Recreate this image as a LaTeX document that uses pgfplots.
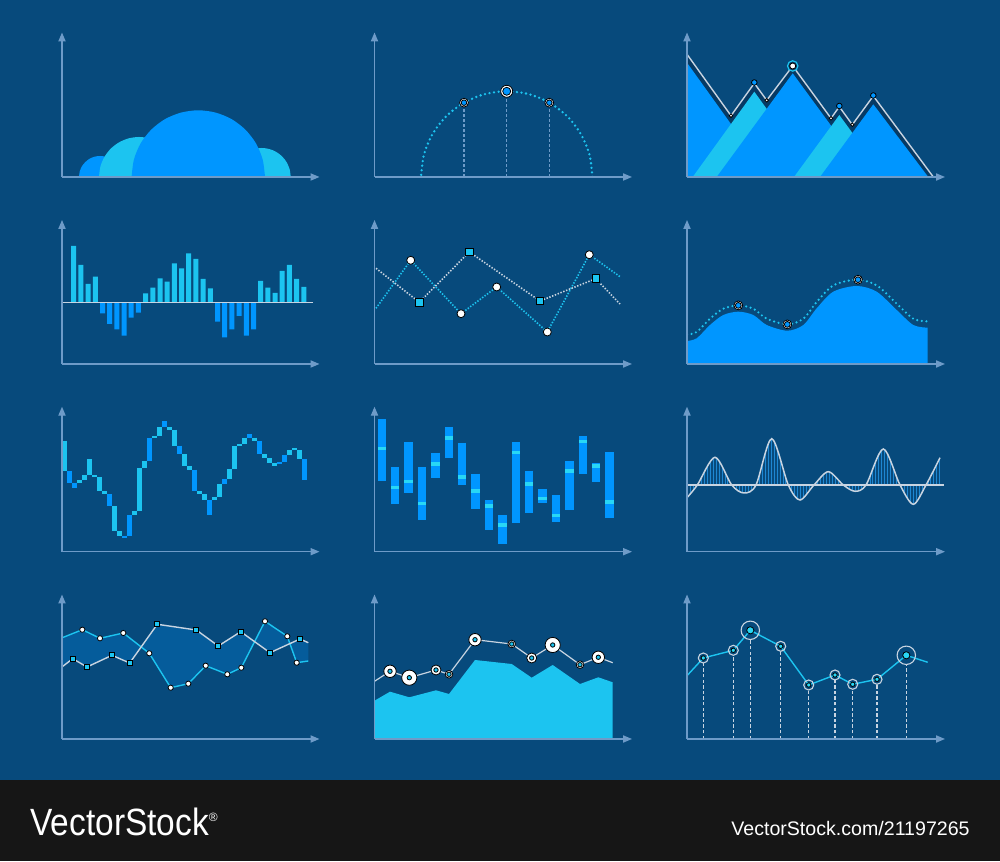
\documentclass[border=0pt]{standalone}
\usepackage{fontspec}
\setmainfont{Liberation Sans}
\usepackage{graphicx}
\usepackage{pgfplots}
\pgfplotsset{compat=1.18}
\usetikzlibrary{arrows.meta,patterns.meta}

\definecolor{bgc}{RGB}{7,74,124}
\definecolor{axisc}{RGB}{110,155,200}
\definecolor{bblue}{RGB}{0,150,255}
\definecolor{ccyan}{RGB}{28,196,240}
\definecolor{navy}{RGB}{6,58,100}
\definecolor{hatchc}{RGB}{30,135,210}
\definecolor{band}{RGB}{5,92,155}
\definecolor{banner}{RGB}{22,22,22}
\definecolor{lgray}{RGB}{200,212,225}
\definecolor{aqua}{RGB}{40,215,245}

% 1 px of the reference = 0.5pt; data are read in pixel units
\pgfplotsset{
  panel/.style={
    x=0.5pt, y=0.5pt,
    anchor=south west,
    axis lines=left, axis on top,
    axis line style={draw=axisc, line width=0.65pt},
    every outer x axis line/.append style={-{Triangle[length=4.5pt,width=3.6pt]}},
    every outer y axis line/.append style={-{Triangle[length=4.5pt,width=3.6pt]}},
    xtick=\empty, ytick=\empty,
    unbounded coords=jump,
  },
}

\begin{document}
\begin{tikzpicture}
\fill[bgc] (0,0) rectangle (500pt,430.5pt);
\fill[banner] (0,0) rectangle (500pt,40.5pt);
\node[anchor=west, text=white, inner sep=0pt] at (15pt,19.5pt)
  {\scalebox{0.88}[1]{\fontsize{19pt}{20pt}\selectfont VectorStock}\raisebox{7pt}{\fontsize{6pt}{7pt}\selectfont ®}};
\node[anchor=east, text=white, inner sep=0pt] at (485pt,16.5pt)
  {\fontsize{9.8pt}{11pt}\selectfont VectorStock.com/21197265};

% ---------- row 1 ----------
\begin{axis}[panel, at={(31pt,342pt)}, xmin=62, xmax=319.5, ymin=684, ymax=828.5]
\addplot[fill=bblue, draw=none, smooth] coordinates {(121,684)(120.3,689.4)(118.2,694.5)(114.8,698.8)(110.5,702.2)(105.4,704.3)(100,705)(94.6,704.3)(89.5,702.2)(85.2,698.8)(81.8,694.5)(79.7,689.4)(79,684)} \closedcycle;
\addplot[fill=ccyan, draw=none, smooth] coordinates {(179,684)(177.6,694.4)(173.6,704)(167.3,712.3)(159,718.6)(149.4,722.6)(139,724)(128.6,722.6)(119,718.6)(110.7,712.3)(104.4,704)(100.4,694.4)(99,684)} \closedcycle;
\addplot[fill=ccyan, draw=none, smooth] coordinates {(290.7,684)(289.7,691.5)(286.8,698.5)(282.2,704.5)(276.2,709.1)(269.2,712)(261.7,713)(254.2,712)(247.2,709.1)(241.2,704.5)(236.6,698.5)(233.7,691.5)(232.7,684)} \closedcycle;
\addplot[fill=bblue, draw=none, smooth] coordinates {(265,684)(262.7,701.3)(256.1,717.4)(245.5,731.2)(231.7,741.8)(215.6,748.4)(198.3,750.7)(181,748.4)(164.9,741.8)(151.1,731.2)(140.5,717.4)(133.9,701.3)(131.6,684)} \closedcycle;
\end{axis}

\begin{axis}[panel, at={(187.25pt,342pt)}, xmin=374.5, xmax=632, ymin=684, ymax=828.5]
\addplot[axisc, line width=0.6pt, dash pattern=on 1.6pt off 0.9pt] coordinates {(464,684)(464,758.3)(464,nan)(506.7,684)(506.7,769.7)(506.7,nan)(549.3,684)(549.3,758.3)};
\addplot[ccyan, line width=1.3pt, line cap=round, dash pattern=on 0pt off 2.3pt, smooth] coordinates {(592.4,684)(589.5,706.2)(580.9,726.85)(567.3,744.6)(549.55,758.2)(528.9,766.8)(506.7,769.7)(484.5,766.8)(463.85,758.2)(446.1,744.6)(432.5,726.85)(423.9,706.2)(421,684)};
\addplot[only marks, mark=*, mark size=3pt, mark options={fill=white, draw=none}] coordinates {(506.7,769.7)};
\addplot[only marks, mark=*, mark size=2pt, mark options={fill=bblue, draw=none}] coordinates {(506.7,769.7)};
\addplot[only marks, mark=*, mark size=2.2pt, mark options={fill=white, draw=none}] coordinates {(464,758.3)(549.3,758.3)};
\addplot[only marks, mark=*, mark size=1.4pt, mark options={fill=bblue, draw=none}] coordinates {(464,758.3)(549.3,758.3)};
\end{axis}

\begin{axis}[panel, at={(343.5pt,342pt)}, xmin=687, xmax=945, ymin=684, ymax=828.5]
\addplot[fill=navy, draw=none] coordinates {(687,684)(687,806.7)(731,745.3)(754.3,777.7)(766.7,760.7)(792.7,795)(831,742.7)(839.3,754.3)(852.3,736.3)(873.3,765)(933.3,684)};
\addplot[fill=bblue, draw=none] coordinates {(687,684)(687,798.3)(769,684)};
\addplot[fill=ccyan, draw=none] coordinates {(692.7,684)(754.3,769.3)(815.9,684)};
\addplot[fill=bblue, draw=none] coordinates {(716.7,684)(792.7,787.7)(868.7,684)};
\addplot[fill=ccyan, draw=none] coordinates {(794,684)(839.3,746)(884.6,684)};
\addplot[fill=bblue, draw=none] coordinates {(820,684)(873.3,756.7)(928.3,684)};
\addplot[lgray, line width=0.7pt] coordinates {(687,806.7)(731,745.3)(754.3,777.7)(766.7,760.7)(792.7,795)(831,742.7)(839.3,754.3)(852.3,736.3)(873.3,765)(933.3,684)};
\addplot[only marks, mark=*, mark size=1.4pt, mark options={fill=bblue, draw=none}] coordinates {(754.3,778.5)(839.3,755)(873.3,765.5)};
\addplot[only marks, mark=*, mark size=0.9pt, mark options={fill=white, draw=none}] coordinates {(731,745.3)(766.7,760.7)(831,742.7)(852.3,736.3)};
\addplot[only marks, mark=*, mark size=2.6pt, mark options={fill=navy, draw=ccyan, line width=0.6pt}] coordinates {(792.7,795)};
\addplot[only marks, mark=*, mark size=1.5pt, mark options={fill=white, draw=none}] coordinates {(792.7,795)};
\end{axis}

% ---------- row 2 ----------
\begin{axis}[panel, at={(31pt,248.5pt)}, xmin=62, xmax=319.5, ymin=-61.3, ymax=82.7]
\addplot[ybar, bar width=2.5pt, bar shift=0pt, fill=ccyan, draw=none] coordinates {(73.7,56.7)(80.9,37.7)(88.1,18.7)(95.3,26)(145.6,9.3)(152.8,15)(160,24.3)(167.2,21)(174.4,39.3)(181.6,34.3)(188.7,49.3)(195.9,43.7)(203.1,23.7)(210.3,14.3)(260.6,21.7)(267.8,15)(275,9.7)(282.2,31.7)(289.4,37.7)(296.6,23.7)(303.8,15.7)};
\addplot[ybar, bar width=2.5pt, bar shift=0pt, fill=bblue, draw=none] coordinates {(102.5,-10.7)(109.7,-21.3)(116.8,-26.7)(124,-33)(131.2,-15)(138.4,-10)(217.5,-19)(224.7,-34.7)(231.9,-26.7)(239.1,-13.3)(246.3,-33)(253.5,-26.7)};
\addplot[lgray, line width=0.6pt] coordinates {(62,0)(312.7,0)};
\end{axis}

\begin{axis}[panel, at={(187.25pt,248.5pt)}, xmin=374.5, xmax=632, ymin=497, ymax=641]
\addplot[ccyan, line width=0.8pt, dash pattern=on 0.7pt off 0.8pt] coordinates {(376,552.7)(410.7,600.7)(461,547.3)(496.7,574)(547.3,529)(589.3,606.3)(620,584.3)};
\addplot[lgray, line width=0.8pt, dash pattern=on 0.7pt off 0.8pt] coordinates {(376,592.7)(419.3,558.7)(469.3,609)(540,560)(595.7,582.3)(620,557)};
\addplot[only marks, mark=*, mark size=2pt, mark options={fill=white, draw=none}] coordinates {(410.7,600.7)(461,547.3)(496.7,574)(547.3,529)(589.3,606.3)};
\addplot[only marks, mark=square*, mark size=1.9pt, mark options={fill=ccyan, draw=none}] coordinates {(419.3,558.7)(469.3,609)(540,560)(595.7,582.3)};
\end{axis}

\begin{axis}[panel, at={(343.5pt,248.5pt)}, xmin=687, xmax=945, ymin=497, ymax=641]
\addplot[fill=bblue, draw=none, smooth] coordinates {(687,520)(696.7,522.7)(710,536)(723.3,546)(738.3,549.3)(753.3,546)(766.7,536)(787.3,530.3)(803.3,536)(816.7,552.7)(833.3,569.3)(856.7,575)(876.7,569.3)(896.7,551)(913.3,536)(927.7,533.3)} \closedcycle;
\addplot[ccyan, line width=1.2pt, line cap=round, dash pattern=on 0pt off 2.3pt, smooth] coordinates {(687,526.3)(696.7,529)(710,542.3)(723.3,552.3)(738.3,555.6)(753.3,552.3)(766.7,542.3)(787.3,536.6)(803.3,542.3)(816.7,559)(833.3,575.6)(856.7,581.3)(876.7,575.6)(896.7,557.3)(913.3,542.3)(927.7,539.6)};
\addplot[only marks, mark=*, mark size=2.2pt, mark options={fill=white, draw=none}] coordinates {(738.3,555.6)(787.3,536.6)(858,581.3)};
\addplot[only marks, mark=*, mark size=1.45pt, mark options={fill=bblue, draw=none}] coordinates {(738.3,555.6)(787.3,536.6)(858,581.3)};
\end{axis}

% ---------- row 3 ----------
\begin{axis}[panel, at={(31pt,154.65pt)}, xmin=62, xmax=319.5, ymin=309.3, ymax=454.3]
\addplot[ccyan, line width=2.5pt, line cap=butt] coordinates {
(64.8,420.3)(64.8,390)(64.8,nan)(79.8,380.7)(79.8,378)(79.8,nan)(84.8,385.7)(84.8,380.7)(84.8,nan)
(89.8,401.7)(89.8,385.7)(89.8,nan)(94.8,385.7)(94.8,384)(94.8,nan)(99.8,384)(99.8,370)(99.8,nan)
(104.8,370)(104.8,367)(104.8,nan)(114.8,355)(114.8,330)(114.8,nan)(119.8,330)(119.8,325)(119.8,nan)
(134.8,350.3)(134.8,346)(134.8,nan)(139.8,392.7)(139.8,350.3)(139.8,nan)(144.8,400.3)(144.8,392.7)(144.8,nan)
(154.8,425)(154.8,422.7)(154.8,nan)(159.8,433.7)(159.8,425)(159.8,nan)(169.8,433.7)(169.8,431.3)(169.8,nan)
(174.8,431.3)(174.8,415.3)(174.8,nan)(184.8,406.7)(184.8,395)(184.8,nan)(189.8,395)(189.8,391.3)(189.8,nan)
(199.8,370)(199.8,367)(199.8,nan)(204.8,367)(204.8,360.7)(204.8,nan)(214.8,364)(214.8,360.7)(214.8,nan)
(219.8,377.3)(219.8,364)(219.8,nan)(229.8,392)(229.8,381.7)(229.8,nan)(234.8,415)(234.8,392)(234.8,nan)
(239.8,417.3)(239.8,415)(239.8,nan)(244.8,423.3)(244.8,417.3)(244.8,nan)(254.8,423.3)(254.8,420)(254.8,nan)
(264.8,406.7)(264.8,402.7)(264.8,nan)(269.8,402.7)(269.8,397.7)(269.8,nan)(274.8,397.7)(274.8,395)(274.8,nan)
(289.8,410.7)(289.8,406)(289.8,nan)(294.8,412.7)(294.8,410.7)(294.8,nan)(299.8,410.7)(299.8,402)};
\addplot[bblue, line width=2.5pt, line cap=butt] coordinates {
(69.8,390)(69.8,378.3)(69.8,nan)(74.8,378.3)(74.8,373.3)(74.8,nan)(109.8,367)(109.8,355)(109.8,nan)
(124.8,325)(124.8,322.7)(124.8,nan)(129.8,346)(129.8,325)(129.8,nan)(149.8,422.7)(149.8,400.3)(149.8,nan)
(164.8,440)(164.8,433.7)(164.8,nan)(179.8,415.3)(179.8,406.7)(179.8,nan)(194.8,391.3)(194.8,370)(194.8,nan)
(209.8,360.7)(209.8,346)(209.8,nan)(224.8,381.7)(224.8,377.3)(224.8,nan)(249.8,426.7)(249.8,423.3)(249.8,nan)
(259.8,420)(259.8,406.7)(259.8,nan)(279.8,399.3)(279.8,397.3)(279.8,nan)(284.8,406)(284.8,399.3)(284.8,nan)
(304.8,402)(304.8,381)};
\end{axis}

\begin{axis}[panel, at={(187.25pt,154.65pt)}, xmin=374.5, xmax=632, ymin=309.3, ymax=454.3]
\addplot[bblue, line width=4.15pt, line cap=butt] coordinates {
(381.8,442)(381.8,380.3)(381.8,nan)(395.2,394)(395.2,356.7)(395.2,nan)(408.6,419)(408.6,368)(408.6,nan)
(422,394)(422,341)(422,nan)(435.4,408.3)(435.4,383.3)(435.4,nan)(448.8,434)(448.8,402.7)(448.8,nan)
(462.2,418.3)(462.2,376)(462.2,nan)(475.6,387.3)(475.6,352.3)(475.6,nan)(489,361.3)(489,330.7)(489,nan)
(502.4,346)(502.4,317.3)(502.4,nan)(515.8,419)(515.8,338.3)(515.8,nan)(529.2,390.3)(529.2,348)(529.2,nan)
(542.6,372)(542.6,357.7)(542.6,nan)(556,365.7)(556,338.7)(556,nan)(569.4,400)(569.4,350.7)(569.4,nan)
(582.8,425)(582.8,386.7)(582.8,nan)(596.2,398)(596.2,379)(596.2,nan)(609.6,408.7)(609.6,343)};
\addplot[aqua, line width=4.15pt, line cap=butt] coordinates {
(381.8,414.4)(381.8,411)(381.8,nan)(395.2,375)(395.2,371.6)(395.2,nan)(408.6,381)(408.6,377.6)(408.6,nan)
(422,359)(422,355.6)(422,nan)(435.4,398.7)(435.4,395.3)(435.4,nan)(448.8,424.7)(448.8,421.3)(448.8,nan)
(462.2,385.7)(462.2,382.3)(462.2,nan)(475.6,371.7)(475.6,368.3)(475.6,nan)(489,356.7)(489,353.3)(489,nan)
(502.4,337.7)(502.4,334.3)(502.4,nan)(515.8,410.4)(515.8,407)(515.8,nan)(529.2,378.7)(529.2,375.3)(529.2,nan)
(542.6,364)(542.6,360.6)(542.6,nan)(556,347)(556,343.6)(556,nan)(569.4,391.7)(569.4,388.3)(569.4,nan)
(582.8,421)(582.8,417.6)(582.8,nan)(596.2,396.7)(596.2,393.3)(596.2,nan)(609.6,360.7)(609.6,357.3)};
\end{axis}

\begin{axis}[panel, at={(343.5pt,154.65pt)}, xmin=687, xmax=945, ymin=-66.7, ymax=78.3]
\addplot[draw=none, pattern={Lines[angle=90,distance=1.45pt,line width=0.45pt]}, pattern color=hatchc, smooth] coordinates {(687,-12.7)(697.3,0)(715,27.7)(731.7,0)(744,-8)(756,0)(771.7,46.3)(788.3,0)(800,-15)(814,0)(828.3,13.3)(843.3,0)(855,-6.3)(866,0)(883.3,36)(900,0)(913.3,-19.3)(926,0)(940,27.3)} \closedcycle;
\addplot[lgray, line width=0.6pt] coordinates {(687,0)(944,0)};
\addplot[lgray, line width=0.75pt, smooth] coordinates {(687,-12.7)(697.3,0)(715,27.7)(731.7,0)(744,-8)(756,0)(771.7,46.3)(788.3,0)(800,-15)(814,0)(828.3,13.3)(843.3,0)(855,-6.3)(866,0)(883.3,36)(900,0)(913.3,-19.3)(926,0)(940,27.3)};
\end{axis}

% ---------- row 4 ----------
\begin{axis}[panel, at={(31pt,61pt)}, xmin=62, xmax=319.5, ymin=122, ymax=266.5]
% band between the two series: first series forward, second series back
\addplot[fill=band, draw=none] coordinates {(62.3,223.3)(82.3,231.3)(100,222.7)(123.3,228)(149.3,207.7)(170.7,173.3)(188.3,177.3)(205.7,195.3)(227.3,186.7)(241.3,193.3)(265,239.7)(287.3,224.7)(296.7,198.3)(308.3,200)(308.3,218.3)(300,222)(270,208.3)(240.7,229.3)(218.3,215)(196.3,231)(157.3,236.7)(129.7,198)(112,205.7)(87,194)(72.7,202.3)(62.3,194.3)};
\addplot[ccyan, line width=0.7pt] coordinates {(62.3,223.3)(82.3,231.3)(100,222.7)(123.3,228)(149.3,207.7)(170.7,173.3)(188.3,177.3)(205.7,195.3)(227.3,186.7)(241.3,193.3)(265,239.7)(287.3,224.7)(296.7,198.3)(308.3,200)};
\addplot[lgray, line width=0.7pt] coordinates {(62.3,194.3)(72.7,202.3)(87,194)(112,205.7)(129.7,198)(157.3,236.7)(196.3,231)(218.3,215)(240.7,229.3)(270,208.3)(300,222)(308.3,218.3)};
\addplot[only marks, mark=*, mark size=1.3pt, mark options={fill=white, draw=none}] coordinates {(82.3,231.3)(100,222.7)(123.3,228)(149.3,207.7)(170.7,173.3)(188.3,177.3)(205.7,195.3)(227.3,186.7)(241.3,193.3)(265,239.7)(287.3,224.7)(296.7,198.3)};
\addplot[only marks, mark=square*, mark size=1.25pt, mark options={fill=ccyan, draw=none}] coordinates {(72.7,202.3)(87,194)(112,205.7)(129.7,198)(157.3,236.7)(196.3,231)(218.3,215)(240.7,229.3)(270,208.3)(300,222)};
\end{axis}

\begin{axis}[panel, at={(187.25pt,61pt)}, xmin=374.5, xmax=632, ymin=122, ymax=266.5]
\addplot[fill=ccyan, draw=none] coordinates {(374.5,122)(374.5,160.3)(390,169.3)(409.3,163.7)(436,170.7)(449,167)(475,201)(511.7,197)(531.7,183.3)(552.7,196)(580,177)(598.3,183.7)(612.7,178.7)(612.7,122)};
\addplot[lgray, line width=0.6pt] coordinates {(374.5,179.7)(390,189.7)(409.3,183.3)(436,191)(449,186.7)(475,221.3)(511.7,217)(531.7,203)(552.7,216)(580,196.3)(598.3,203.7)(612.7,198.3)};
\addplot[only marks, mark=*, mark size=3.8pt, mark options={fill=white, draw=none}] coordinates {(409.3,183.3)(552.7,216)};
\addplot[only marks, mark=*, mark size=3.1pt, mark options={fill=white, draw=none}] coordinates {(390,189.7)(475,221.3)(598.3,203.7)};
\addplot[only marks, mark=*, mark size=2.5pt, mark options={fill=white, draw=none}] coordinates {(436,191)(531.7,203)};
\addplot[only marks, mark=*, mark size=1.9pt, mark options={fill=white, draw=none}] coordinates {(449,186.7)(511.7,217)(580,196.3)};
\addplot[only marks, mark=*, mark size=1.1pt, mark options={fill=ccyan, draw=none}] coordinates {(390,189.7)(409.3,183.3)(436,191)(449,186.7)(475,221.3)(511.7,217)(531.7,203)(552.7,216)(580,196.3)(598.3,203.7)};
\end{axis}

\begin{axis}[panel, at={(343.5pt,61pt)}, xmin=687, xmax=945, ymin=122, ymax=266.5]
\addplot[lgray, line width=0.6pt, dash pattern=on 1.7pt off 1.1pt] coordinates {(703.3,122)(703.3,198)(703.3,nan)(733.3,122)(733.3,205.7)(733.3,nan)(750.3,122)(750.3,221.4)(750.3,nan)(780.7,122)(780.7,209.7)(780.7,nan)(808.7,122)(808.7,171)(808.7,nan)(835,122)(835,181)(835,nan)(852.7,122)(852.7,171.7)(852.7,nan)(877,122)(877,176.7)(877,nan)(906.3,122)(906.3,196.4)};
\addplot[ccyan, line width=0.7pt] coordinates {(687,185.3)(703.3,203)(733.3,210.7)(750.3,230.7)(780.7,214.7)(808.7,176)(835,186)(852.7,176.7)(877,181.7)(906.3,205.7)(927.7,198.7)};
\addplot[only marks, mark=o, mark size=2.5pt, mark options={draw=lgray, line width=0.55pt}] coordinates {(703.3,203)(733.3,210.7)(780.7,214.7)(808.7,176)(835,186)(852.7,176.7)(877,181.7)};
\addplot[only marks, mark=o, mark size=4.6pt, mark options={draw=lgray, line width=0.55pt}] coordinates {(750.3,230.7)(906.3,205.7)};
\addplot[only marks, mark=*, mark size=1.1pt, mark options={fill=aqua, draw=none}] coordinates {(703.3,203)(733.3,210.7)(780.7,214.7)(808.7,176)(835,186)(852.7,176.7)(877,181.7)};
\addplot[only marks, mark=*, mark size=1.8pt, mark options={fill=aqua, draw=none}] coordinates {(750.3,230.7)(906.3,205.7)};
\end{axis}
\end{tikzpicture}
\end{document}
